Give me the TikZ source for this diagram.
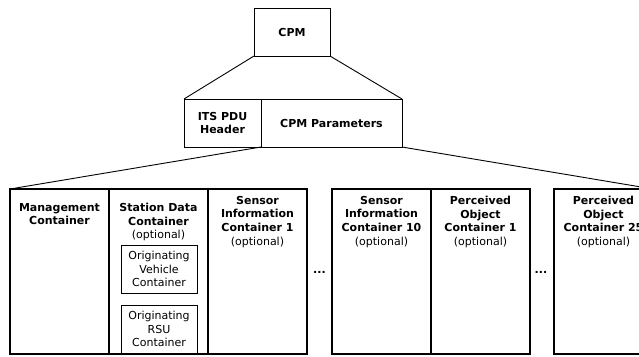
\documentclass[tikz,border=0pt]{standalone}
\usepackage{fontspec}
\setmainfont{DejaVu Sans}
\usetikzlibrary{positioning}

\begin{document}
\begin{tikzpicture}[x=1pt,y=-1pt,outer sep=0pt,
  every node/.style={font=\fontsize{11}{13.7}\selectfont},
  topbox/.style={draw,line width=0.9pt,inner sep=0pt,align=center,minimum height=48pt,font=\fontsize{11}{13.7}\selectfont\bfseries},
  cbox/.style={draw,line width=1.3pt,inner sep=0pt,anchor=north west,minimum width=99pt,minimum height=165pt},
  subbox/.style={draw,line width=0.8pt,inner sep=0pt,anchor=north west,minimum width=76pt,minimum height=48pt,align=center},
  ctitle/.style={anchor=north,inner sep=0pt,align=center,font=\fontsize{11}{13.7}\selectfont\bfseries},
  link/.style={line width=0.9pt}]
\useasboundingbox (0,0) rectangle (639,356);
\clip (0,0) rectangle (639,356);
\fill[white] (0,0) rectangle (639,356);
% message and its two parts
\node[topbox,minimum width=76pt] (cpm) at (292,32) {CPM};
\node[topbox,anchor=north west,minimum width=77pt] (hdr) at (184,99) {ITS PDU\\Header};
\node[topbox,right=0pt of hdr,minimum width=141pt] (params) {CPM Parameters};
% containers
\node[cbox] (mgmt) at (10,189) {};
\node[cbox,right=0pt of mgmt] (station) {};
\node[cbox,right=0pt of station] (sensA) {};
\node[cbox,right=25pt of sensA] (sensB) {};
\node[cbox,right=0pt of sensB] (objA) {};
\node[cbox,right=24pt of objA] (objB) {};
\node[ctitle] (mgmtT) at ([yshift=-14pt]mgmt.north) {Management\\Container};
\node[ctitle] (stationT) at ([yshift=-14pt]station.north) {Station Data\\Container\\\mdseries(optional)};
\node[ctitle] (sensAT) at ([yshift=-7pt]sensA.north) {Sensor\\Information\\Container 1\\\mdseries(optional)};
\node[ctitle] (sensBT) at ([yshift=-7pt]sensB.north) {Sensor\\Information\\Container 10\\\mdseries(optional)};
\node[ctitle] (objAT) at ([yshift=-7pt]objA.north) {Perceived\\Object\\Container 1\\\mdseries(optional)};
\node[ctitle] (objBT) at ([yshift=-7pt]objB.north) {Perceived\\Object\\Container 25\\\mdseries(optional)};
\node[subbox] (origV) at (121,245) {Originating\\Vehicle\\Container};
\node[subbox,below=12pt of origV] (origR) {Originating\\RSU\\Container};
\node (gapA) at (319.5,272) {\textbf{...}};
\node (gapB) at (541,272) {\textbf{...}};
% expansion lines
\draw[link] (cpm.south west) -- (hdr.north west);
\draw[link] (cpm.south east) -- (params.north east);
\draw[link] (params.south west) -- (mgmt.north west);
\draw[link] (params.south east) -- (objB.north east);
\end{tikzpicture}
\end{document}
